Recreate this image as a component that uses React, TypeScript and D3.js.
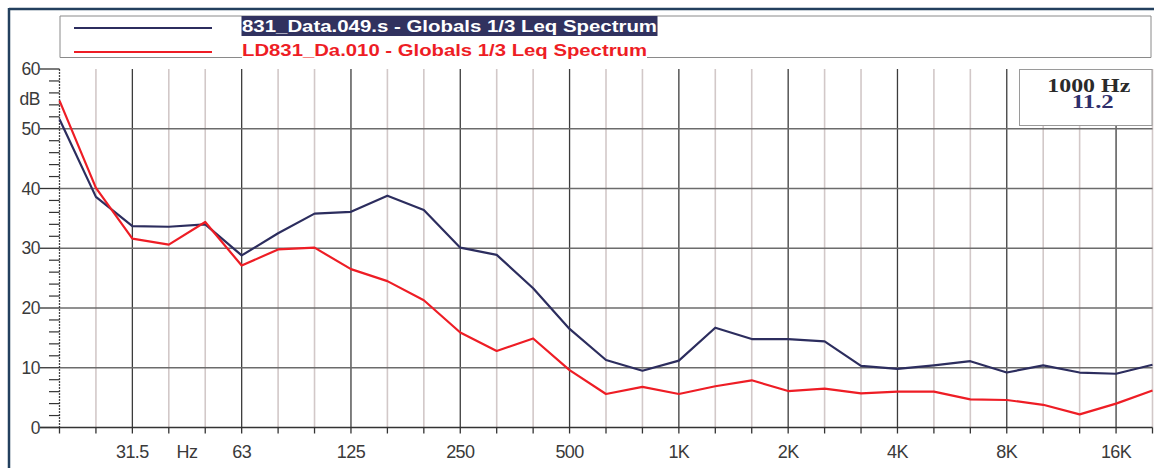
import React from 'react';
import * as d3 from 'd3';

const bands = ['20', '25', '31.5', '40', '50', '63', '80', '100', '125', '160', '200', '250', '315', '400', '500', '630', '800', '1K', '1.25K', '1.6K', '2K', '2.5K', '3.15K', '4K', '5K', '6.3K', '8K', '10K', '12.5K', '16K', '20K'];
const series1Name = '831_Data.049.s - Globals 1/3 Leq Spectrum';
const series2Name = 'LD831_Da.010 - Globals 1/3 Leq Spectrum';
const series1 = [51.6, 38.6, 33.7, 33.6, 34.0, 28.8, 32.5, 35.8, 36.1, 38.8, 36.4, 30.1, 28.9, 23.3, 16.5, 11.3, 9.5, 11.2, 16.7, 14.8, 14.8, 14.4, 10.3, 9.8, 10.4, 11.1, 9.2, 10.4, 9.2, 9.0, 10.5];
const series2 = [54.7, 40.1, 31.6, 30.6, 34.4, 27.1, 29.8, 30.1, 26.5, 24.5, 21.3, 15.9, 12.8, 14.9, 9.6, 5.6, 6.8, 5.6, 6.9, 7.9, 6.1, 6.5, 5.7, 6.0, 6.0, 4.7, 4.6, 3.8, 2.2, 4.0, 6.2];
const xTickLabels = ['31.5', '63', '125', '250', '500', '1K', '2K', '4K', '8K', '16K'];
const xUnit = 'Hz';
const yTicks = [0, 10, 20, 30, 40, 50, 60];
const yUnit = 'dB';
const cursorFreq = '1000 Hz';
const cursorValue = '11.2';

const NAVY = '#2c2d5e';
const RED = '#ee1d25';
const FRAME = '#23405e';
const TXT = '#3a3a3a';

export default function App() {
  const W = 1154, H = 468;
  const left = 59.5, right = 1152.5, top = 69, bottom = 427.5;
  const bandFreq = (i: number) => Math.pow(10, 1.3 + i / 10);
  const x = d3.scaleLog().domain([bandFreq(0), bandFreq(bands.length - 1)]).range([left, right]);
  const y = d3.scaleLinear().domain([0, 60]).range([bottom, top]);
  const line = d3.line<number>().x((_, i) => x(bandFreq(i))).y(d => y(d));
  const minorY = d3.range(0, 61, 2).filter(v => v % 10 !== 0);
  const bandIdx = d3.range(bands.length);
  const isMajor = (i: number) => xTickLabels.includes(bands[i]);
  const font = '"Liberation Sans", Arial, Helvetica, sans-serif';
  const serif = '"Liberation Serif", "Times New Roman", serif';
  const hzX = (x(bandFreq(3)) + x(bandFreq(4))) / 2;

  // legend geometry
  const lgL = 60, lgR = 1151, lgT = 16, lgB = 57.5;
  const txtX = 242;
  const t1W = 415, t2W = 405;

  // cursor box
  const bxL = 1019.5, bxR = 1152, bxT = 69.5, bxB = 125.5;
  const bxC = (bxL + bxR) / 2 + 3;

  return (
    <svg width={W} height={H} style={{ position: 'absolute', left: 0, top: 0, background: '#fff' }}>
      {/* frame */}
      <line x1={9} x2={W} y1={9} y2={9} stroke={FRAME} strokeWidth={2.5} />
      <line x1={9} x2={9} y1={8} y2={H} stroke={FRAME} strokeWidth={2.5} />

      {/* legend */}
      <g>
        <line x1={lgL} x2={lgR} y1={lgT} y2={lgT} stroke="#8a8a8a" strokeWidth={1} />
        <line x1={lgL} x2={lgL} y1={lgT} y2={lgB} stroke="#8a8a8a" strokeWidth={1} />
        <line x1={lgR} x2={lgR} y1={lgT} y2={lgB} stroke="#8a8a8a" strokeWidth={1} />
        <line x1={lgL} x2={txtX} y1={lgB} y2={lgB} stroke="#8a8a8a" strokeWidth={1} />
        <line x1={txtX + t2W} x2={lgR} y1={lgB} y2={lgB} stroke="#8a8a8a" strokeWidth={1} />
        <line x1={74} x2={212} y1={28} y2={28} stroke={NAVY} strokeWidth={2} />
        <line x1={74} x2={212} y1={52} y2={52} stroke={RED} strokeWidth={2.2} />
        <rect x={txtX - 0.5} y={lgT} width={t1W + 1} height={20} fill="#31325f" />
        <text x={txtX} y={32} fill="#fff" fontFamily={font} fontWeight="bold" fontSize={17}
          textLength={t1W} lengthAdjust="spacingAndGlyphs">{series1Name}</text>
        <text x={txtX} y={56} fill={RED} fontFamily={font} fontWeight="bold" fontSize={17}
          textLength={t2W} lengthAdjust="spacingAndGlyphs">{series2Name}</text>
      </g>

      {/* vertical grid */}
      {bandIdx.filter(i => i > 0).map(i => (
        <line key={'vg' + i} x1={x(bandFreq(i))} x2={x(bandFreq(i))} y1={top} y2={bottom}
          stroke={isMajor(i) ? '#3c3c3c' : '#d2c8c8'} strokeWidth={isMajor(i) ? 1.3 : 1.6} />
      ))}
      {/* x ticks */}
      {bandIdx.map(i => (
        <line key={'xt' + i} x1={x(bandFreq(i))} x2={x(bandFreq(i))} y1={bottom} y2={bottom + 6}
          stroke="#333" strokeWidth={1.3} />
      ))}
      {/* horizontal grid */}
      {yTicks.filter(v => v > 0 && v < 60).map(v => (
        <line key={'hg' + v} x1={left} x2={right} y1={y(v)} y2={y(v)} stroke="#6c6c6c" strokeWidth={1.5} />
      ))}
      {/* x axis */}
      <line x1={40} x2={right} y1={bottom} y2={bottom} stroke="#333" strokeWidth={1.5} />
      {/* y axis dotted */}
      <line x1={left} x2={left} y1={top} y2={bottom} stroke="#444" strokeWidth={1.3} strokeDasharray="2,1" />
      {/* y ticks */}
      {yTicks.map(v => (
        <line key={'yt' + v} x1={40} x2={left} y1={y(v)} y2={y(v)} stroke="#333" strokeWidth={1.3} />
      ))}
      {minorY.map(v => (
        <line key={'ym' + v} x1={49} x2={left} y1={y(v)} y2={y(v)} stroke="#333" strokeWidth={1.2} />
      ))}
      {yTicks.map(v => (
        <text key={'yl' + v} x={40} y={y(v) + 6} textAnchor="end" fill={TXT} fontFamily={font}
          fontSize={17.5} letterSpacing={-0.5}>{v}</text>
      ))}
      <text x={40} y={y(55) + 6} textAnchor="end" fill={TXT} fontFamily={font} fontSize={17.5} letterSpacing={-0.5}>{yUnit}</text>

      {/* x labels */}
      {bandIdx.filter(isMajor).map(i => (
        <text key={'xl' + i} x={x(bandFreq(i))} y={458} textAnchor="middle" fill={TXT} fontFamily={font}
          fontSize={18} letterSpacing={-0.6}>{bands[i]}</text>
      ))}
      <text x={hzX} y={458} textAnchor="middle" fill={TXT} fontFamily={font} fontSize={18} letterSpacing={-0.6}>{xUnit}</text>

      {/* series */}
      <path d={line(series1) || ''} fill="none" stroke={NAVY} strokeWidth={2.2} strokeLinejoin="round" />
      <path d={line(series2) || ''} fill="none" stroke={RED} strokeWidth={2.2} strokeLinejoin="round" />

      {/* cursor box */}
      <rect x={bxL} y={bxT} width={bxR - bxL} height={bxB - bxT} fill="#fff" stroke="#9a9a9a" strokeWidth={1} />
      <text x={bxC} y={91.5} textAnchor="middle" fill="#2a2a2a" fontFamily={serif} fontWeight="bold" fontSize={19}
        textLength={83} lengthAdjust="spacingAndGlyphs">{cursorFreq}</text>
      <text x={bxC + 4} y={108} textAnchor="middle" fill="#2e2e6a" fontFamily={serif} fontWeight="bold" fontSize={19}
        textLength={42} lengthAdjust="spacingAndGlyphs">{cursorValue}</text>
    </svg>
  );
}
